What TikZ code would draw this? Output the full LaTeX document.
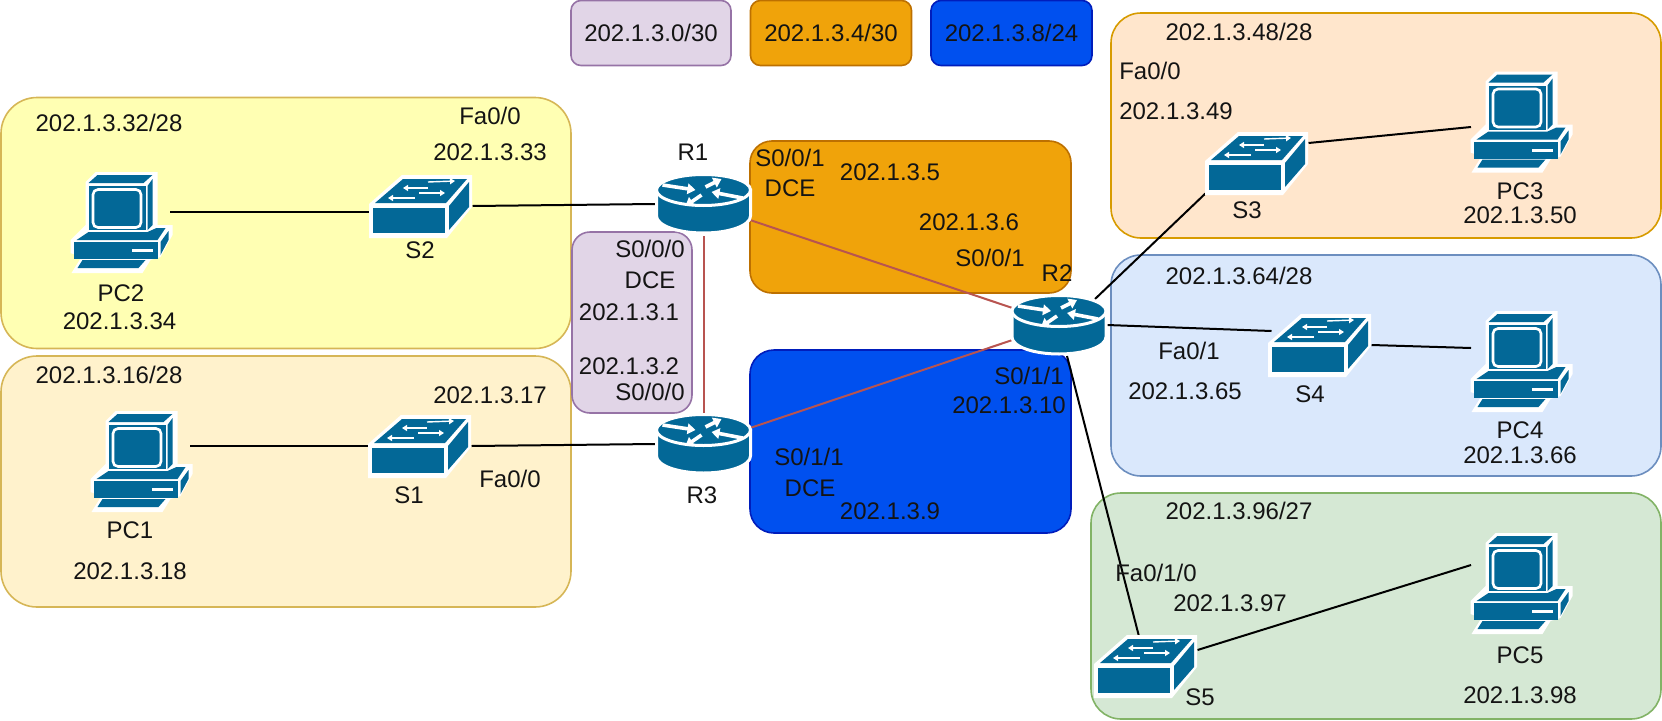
\documentclass[tikz,border=0pt]{standalone}
\usepackage{fontspec}
\setmainfont{Liberation Sans}
\usetikzlibrary{arrows.meta}
\definecolor{ciscoblue}{HTML}{036897}
\definecolor{redline}{HTML}{B85450}
\tikzset{
  x=1pt,y=-1pt,
  zone/.style={draw,line width=1.6pt,inner sep=0pt,outer sep=0pt,rounded corners=#1},
  zone/.default=36pt,
  lbl/.style={inner sep=0pt,outer sep=0pt,font=\fontsize{24}{28}\selectfont,text=black!92},
  routerbox/.style={inner sep=0pt,outer sep=0pt,minimum width=93pt,minimum height=58pt},
  switchbox/.style={inner sep=0pt,outer sep=0pt,minimum width=103pt,minimum height=63pt},
  pcbox/.style={inner sep=0pt,outer sep=0pt,minimum width=99pt,minimum height=100pt},
  link/.style={draw=black,line width=2pt},
  redlink/.style={draw=redline,line width=2pt},
  bigarrow/.style={draw=white,line width=3.6pt,-{Triangle[length=8pt,width=10.5pt]}},
  thinarrow/.style={draw=white,line width=1.4pt,-{Triangle[length=5pt,width=6pt]}},
  routericon/.pic={
    \path[fill=ciscoblue,draw=white,line width=3pt] (-47,-14) -- (-47,12) arc[start angle=180,end angle=0,x radius=47,y radius=17] -- (47,-14) -- cycle;
    \path[fill=ciscoblue,draw=white,line width=3pt] (0,-14) ellipse[x radius=47,y radius=15.5];
    \draw[bigarrow] (-41,-19) -- (-8,-14);
    \draw[bigarrow] (2,-17) -- (18,-25);
    \draw[bigarrow] (39,-6) -- (8,-12);
    \draw[bigarrow] (-2,-9) -- (-18,2);
  },
  switchicon/.pic={
    \path[fill=white] (-52,-2) -- (-19,-31) -- (51,-31) -- (51,1) -- (26,32) -- (-52,32) -- cycle;
    \path[fill=ciscoblue] (-48,2) rectangle (24,27);
    \path[fill=ciscoblue] (-46,-3) -- (-18,-27) -- (46,-27) -- (25,-3) -- cycle;
    \path[fill=ciscoblue] (28,0) -- (48,-24) -- (48,1) -- (28,24) -- cycle;
    \draw[thinarrow] (7,-24) -- (34,-25);
    \draw[thinarrow] (7,-18) -- (-18,-18);
    \draw[thinarrow] (-2,-13) -- (24,-13);
    \draw[thinarrow] (-6,-8) -- (-33,-8);
  },
  pcicon/.pic={
    \path[fill=white] (-49,50) -- (-39,34) -- (-50,30) -- (-50,17) -- (-35,2) -- (-35,-41) -- (-25,-51) -- (37,-51) -- (37,2) -- (52,2) -- (52,12) -- (40,34) -- (30,37) -- (22,50) -- cycle;
    \path[fill=ciscoblue] (-32,-40) -- (-23,-48) -- (32,-48) -- (23,-40) -- cycle;
    \path[fill=ciscoblue] (27,-37) -- (32,-44) -- (32,2) -- (27,7) -- cycle;
    \path[fill=ciscoblue] (-32,-37) rectangle (25,7);
    \path[fill=ciscoblue,draw=white,line width=2.6pt,rounded corners=5pt] (-27.5,-33.5) rectangle (20.5,4.5);
    \path[fill=ciscoblue] (-44,17) -- (-32,9) -- (27,9) -- (36,5) -- (45,5) -- (37,17) -- cycle;
    \path[fill=ciscoblue] (-47,19) rectangle (37,36);
    \path[fill=white] (11,26) rectangle (32,29);
    \path[fill=ciscoblue] (40,19) -- (48,8) -- (48,17) -- (40,32) -- cycle;
    \path[fill=ciscoblue] (-38,37) -- (25,37) -- (18,45) -- (-43,45) -- cycle;
  },
}
\begin{document}
\begin{tikzpicture}
\useasboundingbox (0,0) rectangle (1662,720);
% zones
\node[zone,fill={rgb,255:red,255;green,255;blue,179},draw={rgb,255:red,214;green,182;blue,86},minimum width=570pt,minimum height=251pt] (zoneY) at (286,223) {};
\node[zone,fill={rgb,255:red,255;green,242;blue,204},draw={rgb,255:red,214;green,182;blue,86},minimum width=570pt,minimum height=251pt] (zoneT) at (286,481.5) {};
\node[zone=18pt,fill={rgb,255:red,225;green,213;blue,231},draw={rgb,255:red,150;green,115;blue,166},minimum width=120pt,minimum height=181pt] (zoneP) at (632,322.5) {};
\node[zone=22pt,fill={rgb,255:red,240;green,163;blue,10},draw={rgb,255:red,189;green,112;blue,0},minimum width=321pt,minimum height=152pt] (zoneO) at (910.5,217) {};
\node[zone=24pt,fill={rgb,255:red,0;green,80;blue,239},draw={rgb,255:red,0;green,29;blue,188},minimum width=321pt,minimum height=183pt] (zoneB) at (910.5,441.5) {};
\node[zone=30pt,fill={rgb,255:red,255;green,230;blue,204},draw={rgb,255:red,215;green,155;blue,0},minimum width=550pt,minimum height=225pt] (zoneA) at (1386,125.5) {};
\node[zone=30pt,fill={rgb,255:red,218;green,232;blue,252},draw={rgb,255:red,108;green,142;blue,191},minimum width=550pt,minimum height=221pt] (zoneC) at (1386,365.5) {};
\node[zone=30pt,fill={rgb,255:red,213;green,232;blue,212},draw={rgb,255:red,130;green,179;blue,102},minimum width=570pt,minimum height=226pt] (zoneG) at (1376,606) {};
% legend
\node[zone=10pt,lbl,fill={rgb,255:red,225;green,213;blue,231},draw={rgb,255:red,150;green,115;blue,166},minimum width=160pt,minimum height=65pt] (legP) at (651,33) {202.1.3.0/30};
\node[zone=10pt,lbl,fill={rgb,255:red,240;green,163;blue,10},draw={rgb,255:red,189;green,112;blue,0},minimum width=161pt,minimum height=65pt] (legO) at (831,33) {202.1.3.4/30};
\node[zone=10pt,lbl,fill={rgb,255:red,0;green,80;blue,239},draw={rgb,255:red,0;green,29;blue,188},minimum width=161pt,minimum height=65pt] (legB) at (1011.5,33) {202.1.3.8/24};
% device boxes
\node[routerbox] (R1) at (703.5,204) {};
\node[routerbox] (R3) at (703.5,444) {};
\node[routerbox] (R2) at (1059,325) {};
\node[switchbox] (S2) at (421,206) {};
\node[switchbox] (S1) at (420,446) {};
\node[switchbox] (S3) at (1257,163) {};
\node[switchbox] (S4) at (1320,345) {};
\node[switchbox] (S5) at (1146,666) {};
\node[pcbox] (PC2) at (120.5,223) {};
\node[pcbox] (PC1) at (140.5,462) {};
\node[pcbox] (PC3) at (1520.5,122.5) {};
\node[pcbox] (PC4) at (1520.5,362) {};
\node[pcbox] (PC5) at (1520.5,584) {};
% connectors
\draw[link] ([yshift=11pt]PC2.east) -- ([yshift=-6pt]S2.west);
\draw[link] (S2.east) -- ([xshift=-2pt]R1.west);
\draw[link] ([yshift=16pt]PC1.east) -- (S1.west);
\draw[link] (S1.east) -- ([xshift=-2pt]R3.west);
\draw[redlink] ([yshift=-3pt]R1.south) -- ([yshift=2pt]R3.north);
\draw[redlink] ([yshift=-16pt]R1.east) -- ([yshift=17pt]R2.west);
\draw[redlink] ([yshift=16pt]R3.east) -- ([yshift=-15pt]R2.west);
\draw[link] ([xshift=36pt,yshift=-3pt]R2.north) -- ([shift={(2pt,3pt)}]S3.south west);
\draw[link] ([yshift=20pt]S3.east) -- ([yshift=-4.5pt]PC3.west);
\draw[link] ([xshift=1.5pt]R2.east) -- ([xshift=3pt,yshift=14pt]S4.west);
\draw[link] (S4.east) -- ([yshift=14pt]PC4.west);
\draw[link] ([xshift=8pt,yshift=-2pt]R2.south) -- ([xshift=-7pt,yshift=-2pt]S5.north);
\draw[link] ([yshift=16pt]S5.east) -- ([yshift=19pt]PC5.west);
% icons
\pic at (R1) {routericon};
\pic at (R2) {routericon};
\pic at (R3) {routericon};
\pic at (S1) {switchicon};
\pic at (S2) {switchicon};
\pic at (S3) {switchicon};
\pic at (S4) {switchicon};
\pic at (S5) {switchicon};
\pic at (PC1) {pcicon};
\pic at (PC2) {pcicon};
\pic at (PC3) {pcicon};
\pic at (PC4) {pcicon};
\pic at (PC5) {pcicon};
% labels
\node[lbl] (t1) at (109,123) {202.1.3.32/28};
\node[lbl] (t2) at (490,116) {Fa0/0};
\node[lbl] (t3) at (490,152) {202.1.3.33};
\node[lbl] (t4) at (693,152) {R1};
\node[lbl] (t5) at (420,250) {S2};
\node[lbl] (t6) at (121,293) {PC2};
\node[lbl] (t7) at (119.5,321) {202.1.3.34};
\node[lbl] (t8) at (109,375) {202.1.3.16/28};
\node[lbl] (t9) at (490,395) {202.1.3.17};
\node[lbl] (t10) at (510,479) {Fa0/0};
\node[lbl] (t11) at (409,495) {S1};
\node[lbl] (t12) at (130,530) {PC1};
\node[lbl] (t13) at (130,571) {202.1.3.18};
\node[lbl] (t14) at (702,495) {R3};
\node[lbl] (t15) at (790,158) {S0/0/1};
\node[lbl] (t16) at (790,188) {DCE};
\node[lbl] (t17) at (890,172) {202.1.3.5};
\node[lbl] (t18) at (969,222) {202.1.3.6};
\node[lbl] (t19) at (990,258) {S0/0/1};
\node[lbl] (t20) at (1057,273) {R2};
\node[lbl] (t21) at (650,249) {S0/0/0};
\node[lbl] (t22) at (650,280) {DCE};
\node[lbl] (t23) at (629,312) {202.1.3.1};
\node[lbl] (t24) at (629,366) {202.1.3.2};
\node[lbl] (t25) at (650,392) {S0/0/0};
\node[lbl] (t26) at (1029,376) {S0/1/1};
\node[lbl] (t27) at (1009,405) {202.1.3.10};
\node[lbl] (t28) at (809,457) {S0/1/1};
\node[lbl] (t29) at (810,488) {DCE};
\node[lbl] (t30) at (890,511) {202.1.3.9};
\node[lbl] (t31) at (1239,32) {202.1.3.48/28};
\node[lbl] (t32) at (1150,71) {Fa0/0};
\node[lbl] (t33) at (1176,111) {202.1.3.49};
\node[lbl] (t34) at (1247,210) {S3};
\node[lbl] (t35) at (1520,191) {PC3};
\node[lbl] (t36) at (1520,215) {202.1.3.50};
\node[lbl] (t37) at (1239,276) {202.1.3.64/28};
\node[lbl] (t38) at (1189,351) {Fa0/1};
\node[lbl] (t39) at (1185,391) {202.1.3.65};
\node[lbl] (t40) at (1310,394) {S4};
\node[lbl] (t41) at (1520,430) {PC4};
\node[lbl] (t42) at (1520,455) {202.1.3.66};
\node[lbl] (t43) at (1239,511) {202.1.3.96/27};
\node[lbl] (t44) at (1156,573) {Fa0/1/0};
\node[lbl] (t45) at (1230,603) {202.1.3.97};
\node[lbl] (t46) at (1200,697) {S5};
\node[lbl] (t47) at (1520,655) {PC5};
\node[lbl] (t48) at (1520,695) {202.1.3.98};
\end{tikzpicture}
\end{document}
